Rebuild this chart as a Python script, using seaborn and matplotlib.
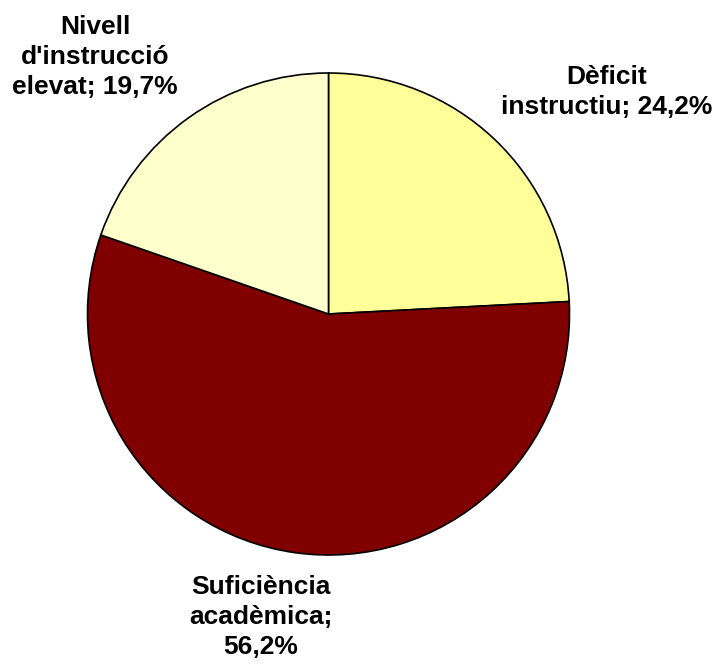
import matplotlib.pyplot as plt
import seaborn as sns

categories = ["Dèficit\ninstructiu", "Suficiència\nacadèmica", "Nivell\nd'instrucció\nelevat"]
values = [24.2, 56.2, 19.7]
colors = ["#FFFF99", "#800000", "#FFFFCC"]
label_text = ["Dèficit\ninstructiu; 24,2%", "Suficiència\nacadèmica;\n56,2%", "Nivell\nd'instrucció\nelevat; 19,7%"]

sns.set_style("white")
plt.rcParams['font.family'] = ['Liberation Sans', 'DejaVu Sans']

W, H = 717, 666
fig = plt.figure(figsize=(W / 100, H / 100), dpi=100)
ax = fig.add_axes([0, 0, 1, 1])

cx, cy, r = 328.5, H - 314, 241
ax.pie(values, colors=colors, startangle=90, counterclock=False,
       center=(cx, cy), radius=r,
       wedgeprops=dict(edgecolor="black", linewidth=1.2))
ax.set_xlim(0, W)
ax.set_ylim(0, H)
ax.set_aspect("equal")
ax.axis("off")

# label positions in pixels (x, y from top)
pos = [(607, 92), (261, 617), (95, 57)]
for txt, (px, py) in zip(label_text, pos):
    ax.text(px, H - py, txt, ha="center", va="center", fontsize=19,
            fontweight="bold", linespacing=1.29, color="black")

fig.savefig("out.png", dpi=100, facecolor="white")
